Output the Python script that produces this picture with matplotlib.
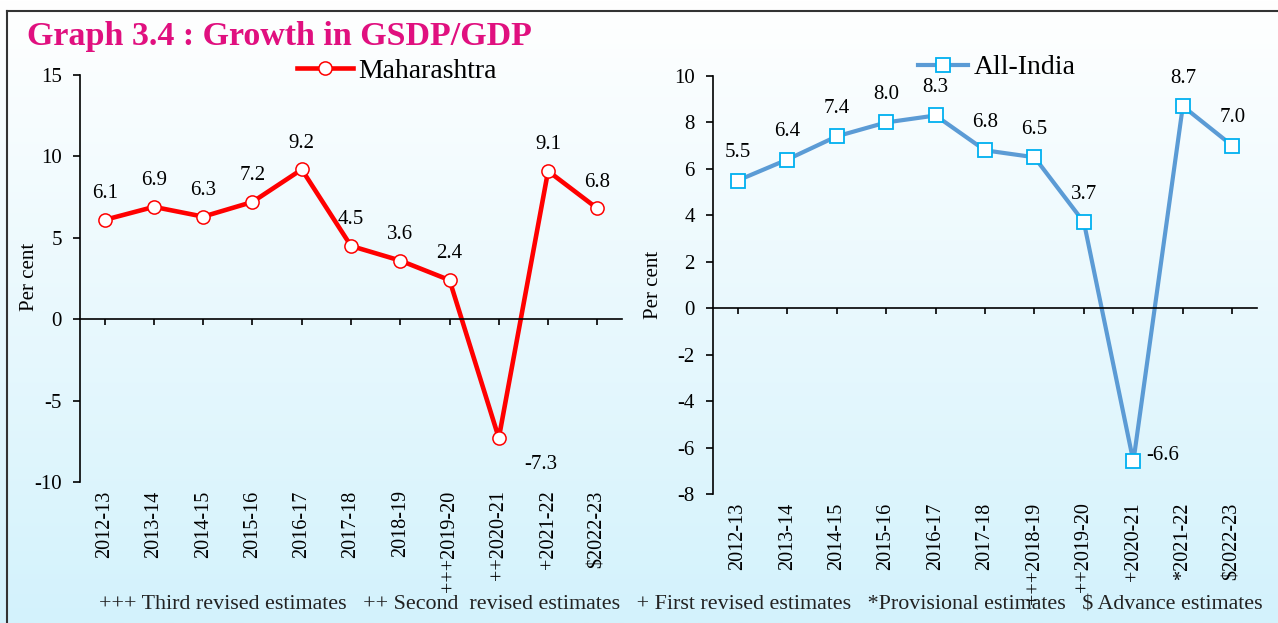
import numpy as np
import matplotlib.pyplot as plt
from matplotlib.lines import Line2D
from matplotlib.colors import LinearSegmentedColormap

# Data
years_mh = ['2012-13', '2013-14', '2014-15', '2015-16', '2016-17', '2017-18',
            '2018-19', '+++2019-20', '++2020-21', '+2021-22', '$2022-23']
years_in = ['2012-13', '2013-14', '2014-15', '2015-16', '2016-17', '2017-18',
            '+++2018-19', '++2019-20', '+2020-21', '*2021-22', '$2022-23']
maharashtra = [6.1, 6.9, 6.3, 7.2, 9.2, 4.5, 3.6, 2.4, -7.3, 9.1, 6.8]
all_india = [5.5, 6.4, 7.4, 8.0, 8.3, 6.8, 6.5, 3.7, -6.6, 8.7, 7.0]

plt.rcParams['font.family'] = 'Liberation Serif'
plt.rcParams['mathtext.default'] = 'regular'
plt.rcParams['axes.unicode_minus'] = False

W, H = 1278, 623
fig = plt.figure(figsize=(W / 100, H / 100), dpi=100)

# background gradient (white -> light blue)
bg = fig.add_axes([0, 0, 1, 1], zorder=-10)
grad = np.linspace(0, 1, 256).reshape(-1, 1)
cmap = LinearSegmentedColormap.from_list('bg', ['#FFFFFF', '#D3F2FC'])
bg.imshow(grad, aspect='auto', cmap=cmap, extent=[0, 1, 0, 1], origin='upper')
bg.axis('off')

# outer frame
fig.add_artist(Line2D([7 / W, 7 / W], [0, 1 - 11 / H], color='#333333', lw=1.5))
fig.add_artist(Line2D([7 / W, 1], [1 - 11 / H, 1 - 11 / H], color='#333333', lw=1.5))


def style_axes(ax, labels):
    ax.patch.set_alpha(0)
    ax.set_xlim(-0.5, 10.5)
    for s in ['top', 'right']:
        ax.spines[s].set_visible(False)
    ax.spines['bottom'].set_position(('data', 0))
    ax.spines['bottom'].set_linewidth(1.2)
    ax.spines['left'].set_linewidth(1.2)
    ax.set_xticks(range(len(labels)))
    ax.tick_params(axis='x', direction='out', length=4, width=1.2, labelbottom=False)
    ax.tick_params(axis='y', direction='out', length=5, width=1.2, labelsize=15, pad=8)
    sec = ax.secondary_xaxis('bottom')
    sec.set_xticks(range(len(labels)), labels, rotation=90, fontsize=14.5)
    sec.tick_params(length=0, pad=6)
    sec.spines['bottom'].set_visible(False)


# Maharashtra
ax1 = fig.add_axes([80 / W, 1 - 482 / H, 542 / W, 407 / H])
style_axes(ax1, years_mh)
ax1.set_ylim(-10, 15)
ax1.set_yticks(range(-10, 16, 5))
ax1.plot(range(len(maharashtra)), maharashtra, color='#FF0000', lw=3.3,
         marker='o', ms=9.5, mfc='white', mec='#FF0000', mew=1.1, label='Maharashtra')
for i, v in enumerate(maharashtra):
    if v < 0:
        ax1.annotate(f'{v:.1f}', (i, v), xytext=(30, -19), textcoords='offset points',
                     ha='center', va='center', fontsize=15)
    else:
        ax1.annotate(f'{v:.1f}', (i, v), xytext=(0, 19), textcoords='offset points',
                     ha='center', va='center', fontsize=15)
ax1.legend(loc='center', bbox_to_anchor=(0.585, 1.01), frameon=False, fontsize=20,
           handlelength=2.0, handletextpad=0.2)

# All-India
ax2 = fig.add_axes([713 / W, 1 - 494 / H, 544 / W, 418 / H])
style_axes(ax2, years_in)
ax2.set_ylim(-8, 10)
ax2.set_yticks(range(-8, 11, 2))
ax2.plot(range(len(all_india)), all_india, color='#5B9BD5', lw=3.0,
         marker='s', ms=10, mfc='white', mec='#00B0F0', mew=1.3, label='All-India')
for i, v in enumerate(all_india):
    if v < 0:
        ax2.annotate(f'{v:.1f}', (i, v), xytext=(9, 4), textcoords='offset points',
                     ha='left', va='center', fontsize=15)
    else:
        ax2.annotate(f'{v:.1f}', (i, v), xytext=(0, 20), textcoords='offset points',
                     ha='center', va='center', fontsize=15)
ax2.legend(loc='center', bbox_to_anchor=(0.522, 1.02), frameon=False, fontsize=20,
           handlelength=1.8, handletextpad=0.2)

# texts
fig.text(27 / W, 1 - 36 / H, 'Graph 3.4 : Growth in GSDP/GDP', color='#E0107F',
         fontsize=24.5, fontweight='bold', va='center', ha='left')
fig.text(30 / W, 1 - 277 / H, 'Per cent', rotation=90, fontsize=15, ha='center', va='center')
fig.text(653 / W, 1 - 285 / H, 'Per cent', rotation=90, fontsize=15, ha='center', va='center')
fig.text(681 / W, 1 - 605 / H,
         '+++ Third revised estimates   ++ Second  revised estimates   + First revised estimates'
         '   *Provisional estimates   $ Advance estimates',
         fontsize=15.8, ha='center', va='center', color='#222222')

fig.savefig('out.png', dpi=100)
